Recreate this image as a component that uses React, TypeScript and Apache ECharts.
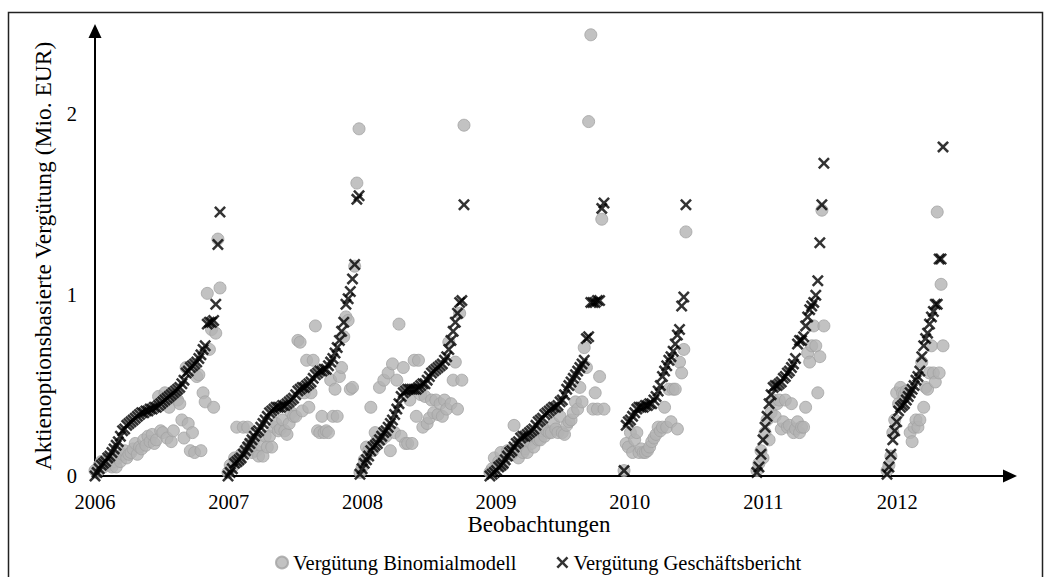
import React, { useEffect, useRef } from "react";
import * as echarts from "echarts";

// Year labels on the x axis
const yearTicks = [2006, 2007, 2008, 2009, 2010, 2011, 2012];

// Position (in years) of the first and last observation of each group
const groupStart = [2006.0, 2006.995, 2007.982, 2008.954, 2009.957, 2010.951, 2011.924];
const groupEnd = [2006.935, 2007.975, 2008.76, 2009.807, 2010.42, 2011.452, 2012.343];

// Vergütung Geschäftsbericht (Mio. EUR), per group, sorted
const gb2006 = [0.00,0.02,0.04,0.06,0.07,0.08,0.10,0.11,0.13,0.15,0.17,0.19,0.22,0.25,0.26,0.28,0.29,0.30,0.31,0.32,0.33,0.34,0.35,0.35,0.36,0.36,0.37,0.37,0.38,0.38,0.39,0.40,0.41,0.42,0.43,0.44,0.45,0.46,0.47,0.48,0.49,0.51,0.53,0.57,0.58,0.60,0.61,0.62,0.63,0.65,0.67,0.70,0.72,0.84,0.85,0.85,0.86,0.95,1.28,1.46];
const gb2007 = [0.00,0.02,0.04,0.07,0.08,0.09,0.10,0.12,0.14,0.16,0.18,0.20,0.22,0.24,0.25,0.27,0.29,0.31,0.33,0.35,0.36,0.37,0.38,0.38,0.38,0.39,0.39,0.40,0.41,0.42,0.43,0.45,0.47,0.48,0.49,0.49,0.50,0.51,0.52,0.54,0.56,0.57,0.58,0.58,0.59,0.59,0.61,0.63,0.65,0.68,0.71,0.75,0.80,0.85,0.95,0.98,1.02,1.09,1.17,1.53,1.55];
const gb2008 = [0.01,0.04,0.07,0.09,0.11,0.14,0.16,0.17,0.18,0.20,0.22,0.24,0.25,0.27,0.29,0.31,0.34,0.37,0.40,0.44,0.46,0.47,0.48,0.48,0.48,0.48,0.48,0.49,0.50,0.51,0.51,0.53,0.55,0.57,0.58,0.59,0.60,0.61,0.62,0.64,0.66,0.70,0.75,0.80,0.85,0.90,0.96,0.97,1.50];
const gb2009 = [0.00,0.01,0.02,0.03,0.05,0.06,0.07,0.09,0.11,0.13,0.14,0.16,0.18,0.19,0.21,0.22,0.22,0.23,0.24,0.25,0.26,0.28,0.30,0.31,0.32,0.34,0.35,0.36,0.37,0.38,0.38,0.39,0.41,0.42,0.45,0.48,0.50,0.52,0.54,0.56,0.58,0.60,0.62,0.64,0.76,0.77,0.96,0.96,0.96,0.97,0.97,1.48,1.51];
const gb2010 = [0.03,0.28,0.30,0.31,0.33,0.35,0.37,0.38,0.38,0.38,0.39,0.39,0.40,0.40,0.42,0.44,0.47,0.50,0.55,0.58,0.61,0.64,0.66,0.69,0.73,0.78,0.81,0.94,0.99,1.50];
const gb2011 = [0.02,0.05,0.12,0.20,0.27,0.33,0.40,0.45,0.49,0.50,0.50,0.51,0.52,0.54,0.55,0.57,0.58,0.60,0.62,0.65,0.73,0.75,0.75,0.77,0.83,0.88,0.92,0.94,0.96,1.00,1.08,1.29,1.50,1.73];
const gb2012 = [0.01,0.05,0.12,0.20,0.25,0.30,0.36,0.38,0.39,0.40,0.42,0.44,0.46,0.48,0.50,0.53,0.55,0.58,0.66,0.72,0.76,0.79,0.84,0.88,0.91,0.95,0.95,1.20,1.20,1.82];

// Vergütung Binomialmodell (Mio. EUR), same observations
const bm2006 = [0.03,0.02,0.06,0.08,0.05,0.07,0.09,0.06,0.05,0.08,0.05,0.10,0.08,0.12,0.14,0.10,0.12,0.13,0.15,0.18,0.12,0.16,0.15,0.20,0.17,0.22,0.19,0.23,0.18,0.20,0.44,0.25,0.24,0.46,0.21,0.38,0.19,0.25,0.45,0.42,0.40,0.31,0.21,0.60,0.29,0.14,0.24,0.13,0.55,0.56,0.14,0.46,0.41,1.01,0.70,0.81,0.38,0.79,1.31,1.04];
const bm2007 = [0.02,0.06,0.05,0.10,0.27,0.08,0.12,0.27,0.15,0.27,0.18,0.13,0.20,0.14,0.11,0.17,0.11,0.22,0.16,0.22,0.16,0.27,0.29,0.25,0.26,0.31,0.25,0.23,0.29,0.35,0.33,0.33,0.75,0.74,0.36,0.46,0.64,0.38,0.46,0.64,0.83,0.25,0.24,0.33,0.24,0.25,0.24,0.53,0.33,0.48,0.33,0.55,0.60,0.77,0.88,0.86,0.48,0.49,1.16,1.62,1.92];
const bm2008 = [0.02,0.05,0.09,0.16,0.14,0.38,0.14,0.24,0.20,0.49,0.20,0.53,0.22,0.57,0.14,0.62,0.24,0.53,0.84,0.22,0.60,0.18,0.18,0.42,0.18,0.64,0.33,0.64,0.45,0.27,0.44,0.29,0.32,0.42,0.35,0.42,0.34,0.40,0.33,0.42,0.37,0.74,0.40,0.53,0.63,0.37,0.90,0.53,1.94];
const bm2009 = [0.02,0.04,0.10,0.05,0.08,0.13,0.06,0.10,0.14,0.14,0.12,0.28,0.16,0.10,0.18,0.13,0.15,0.13,0.20,0.18,0.16,0.22,0.20,0.20,0.25,0.22,0.25,0.24,0.24,0.29,0.26,0.24,0.33,0.24,0.23,0.28,0.30,0.31,0.35,0.41,0.37,0.49,0.41,0.71,0.60,1.96,2.44,0.37,0.46,0.37,0.55,1.42,0.37];
const bm2010 = [0.03,0.18,0.16,0.24,0.13,0.20,0.24,0.13,0.15,0.13,0.13,0.14,0.16,0.19,0.21,0.23,0.27,0.25,0.27,0.38,0.27,0.48,0.30,0.48,0.48,0.26,0.63,0.57,0.70,1.35];
const bm2011 = [0.03,0.07,0.14,0.10,0.24,0.31,0.20,0.35,0.42,0.33,0.40,0.42,0.26,0.30,0.42,0.27,0.28,0.40,0.24,0.26,0.30,0.24,0.27,0.27,0.38,0.68,0.63,0.72,0.83,0.72,0.46,0.66,1.47,0.83];
const bm2012 = [0.03,0.06,0.11,0.24,0.31,0.46,0.40,0.49,0.46,0.45,0.47,0.46,0.24,0.19,0.27,0.31,0.27,0.31,0.63,0.38,0.49,0.48,0.57,0.72,0.57,0.52,1.46,0.57,1.06,0.72];

const gbGroups = [gb2006, gb2007, gb2008, gb2009, gb2010, gb2011, gb2012];
const bmGroups = [bm2006, bm2007, bm2008, bm2009, bm2010, bm2011, bm2012];

const seriesNames = ["Vergütung Binomialmodell", "Vergütung Geschäftsbericht"];

function toPoints(groups: number[][]): number[][] {
  const out: number[][] = [];
  groups.forEach((vals, g) => {
    const n = vals.length;
    const s = groupStart[g];
    const e = groupEnd[g];
    vals.forEach((v, i) => {
      out.push([s + ((e - s) * i) / (n - 1), v]);
    });
  });
  return out;
}

const FONT = "Liberation Serif, Times New Roman, serif";
const X_MARK =
  "path://M0,15 L15,0 L50,35 L85,0 L100,15 L65,50 L100,85 L85,100 L50,65 L15,100 L0,85 L35,50 Z";

export default function App() {
  const ref = useRef<HTMLDivElement>(null);

  useEffect(() => {
    if (!ref.current) return;
    const chart = echarts.init(ref.current, undefined, { renderer: "svg" });
    const option: any = {
      animation: false,
      backgroundColor: "#ffffff",
      grid: {
        left: 95,
        top: 31,
        width: 915,
        height: 445,
        outerBoundsMode: "none",
      },
      xAxis: {
        type: "value",
        min: 2006,
        max: 2012.844,
        interval: 1,
        splitLine: { show: false },
        axisTick: { show: false },
        axisLine: {
          show: true,
          onZero: false,
          lineStyle: { color: "#000", width: 2 },
          symbol: ["none", "triangle"],
          symbolSize: [13, 14],
        },
        axisLabel: {
          margin: 15,
          color: "#000",
          fontFamily: FONT,
          fontSize: 20.5,
          showMaxLabel: false,
          formatter: (v: number) =>
            yearTicks.indexOf(Math.round(v)) >= 0 && Math.abs(v - Math.round(v)) < 1e-6
              ? String(Math.round(v))
              : "",
        },
      },
      yAxis: {
        type: "value",
        min: 0,
        max: 2.461,
        interval: 1,
        splitLine: { show: false },
        axisTick: { show: false },
        axisLine: {
          show: true,
          onZero: false,
          lineStyle: { color: "#000", width: 2 },
          symbol: ["none", "triangle"],
          symbolSize: [13, 14],
        },
        axisLabel: {
          margin: 18,
          color: "#000",
          fontFamily: FONT,
          fontSize: 20.5,
          showMaxLabel: false,
          formatter: (v: number) =>
            Math.abs(v - Math.round(v)) < 1e-6 ? String(Math.round(v)) : "",
        },
      },
      legend: {
        left: 270,
        top: 547,
        itemWidth: 12,
        itemHeight: 12,
        itemGap: 40,
        textStyle: { color: "#000", fontFamily: FONT, fontSize: 20.5 },
        data: seriesNames,
      },
      graphic: [
        {
          type: "rect",
          shape: { x: 8.5, y: 12.5, width: 1034, height: 600 },
          style: { fill: "none", stroke: "#222", lineWidth: 1.5 },
          silent: true,
        },
        {
          type: "text",
          x: 43,
          y: 256,
          rotation: Math.PI / 2,
          style: {
            text: "Aktienoptionsbasierte Vergütung (Mio. EUR)",
            fontFamily: FONT,
            fontSize: 23.5,
            fill: "#000",
            textAlign: "center",
            textVerticalAlign: "middle",
          },
        },
        {
          type: "text",
          x: 539,
          y: 524,
          style: {
            text: "Beobachtungen",
            fontFamily: FONT,
            fontSize: 23,
            fill: "#000",
            textAlign: "center",
            textVerticalAlign: "middle",
          },
        },
      ],
      series: [
        {
          name: seriesNames[0],
          type: "scatter",
          symbol: "circle",
          symbolSize: 12,
          itemStyle: { color: "#b3b3b3", borderColor: "#a2a2a2", borderWidth: 1 },
          data: toPoints(bmGroups),
          z: 2,
        },
        {
          name: seriesNames[1],
          type: "scatter",
          symbol: X_MARK,
          symbolSize: 12,
          itemStyle: { color: "#000" },
          data: toPoints(gbGroups),
          z: 3,
        },
      ],
    };
    chart.setOption(option);
    return () => chart.dispose();
  }, []);

  return (
    <div
      ref={ref}
      style={{ position: "absolute", left: 0, top: 0, width: 1051, height: 577 }}
    />
  );
}
